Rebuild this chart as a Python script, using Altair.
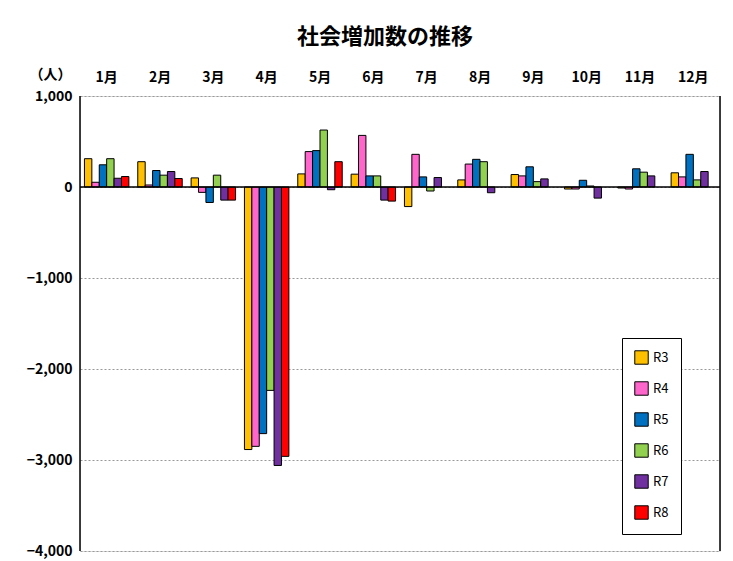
import altair as alt
import pandas as pd

months = ["1月","2月","3月","4月","5月","6月","7月","8月","9月","10月","11月","12月"]
series = ["R3","R4","R5","R6","R7","R8"]
colors = ["#FFC000","#FF66CC","#0070C0","#92D050","#7030A0","#FF0000"]
R3 = [311,278,100,-2885,144,141,-215,78,137,-22,-11,156]
R4 = [52,22,-59,-2850,389,567,359,252,122,-22,-22,111]
R5 = [244,181,-170,-2710,400,122,111,304,222,74,200,359]
R6 = [311,130,130,-2235,626,122,-44,278,59,11,163,78]
R7 = [96,170,-144,-3060,-30,-144,104,-63,89,-122,122,170]
R8 = [115,93,-144,-2960,278,-155,None,None,None,None,None,None]

rows = []
for s, vals in zip(series, [R3,R4,R5,R6,R7,R8]):
    for m, v in zip(months, vals):
        if v is not None:
            rows.append({"month": m, "series": s, "value": v})
df = pd.DataFrame(rows)

font = "Noto Sans CJK JP"
bars = alt.Chart(df).mark_bar(stroke="black", strokeWidth=1).encode(
    x=alt.X("month:N", sort=months, title=None,
            scale=alt.Scale(paddingInner=0.0, paddingOuter=0.0),
            axis=alt.Axis(orient="top", labelAngle=0, labelFontSize=14, labelFontWeight="bold",
                          labelFont=font, domain=False, ticks=False, labelPadding=12)),
    xOffset=alt.XOffset("series:N", sort=series, scale=alt.Scale(paddingOuter=0.6, paddingInner=0)),
    y=alt.Y("value:Q", title="（人）", scale=alt.Scale(domain=[-4000, 1000]),
            axis=alt.Axis(values=[-4000,-3000,-2000,-1000,0,1000], format=",.0f", labelFontSize=14,
                          labelFont=font, labelFontWeight="bold", ticks=False, domain=False,
                          grid=True, gridDash=[2,2], gridColor="#999",
                          titleAngle=0, titleX=-30, titleY=-15, titleFontSize=14,
                          titleFont=font, titleFontWeight="bold", labelPadding=8)),
    color=alt.Color("series:N", sort=series, scale=alt.Scale(domain=series, range=colors),
                    legend=alt.Legend(title=None, orient="none", legendX=542, legendY=242,
                                      symbolType="square", symbolSize=180, symbolStrokeColor="black",
                                      symbolStrokeWidth=1, labelFontSize=13, labelFont=font,
                                      rowPadding=12, padding=12, strokeColor="black",
                                      fillColor="white")),
)
zero = alt.Chart(pd.DataFrame({"y": [0]})).mark_rule(color="black", strokeWidth=1.5).encode(y="y:Q")
left = alt.Chart(pd.DataFrame({"y": [0]})).mark_rule(color="black", strokeWidth=1.5).encode(
    x=alt.value(0), y=alt.value(0), y2=alt.value(455))
right = alt.Chart(pd.DataFrame({"y": [0]})).mark_rule(color="black", strokeWidth=1.5).encode(
    x=alt.value(640), y=alt.value(0), y2=alt.value(455))

chart = alt.layer(bars, zero, left, right).properties(
    width=640, height=455,
    title=alt.TitleParams("社会増加数の推移", fontSize=22, font=font, fontWeight="bold", offset=18, dx=-15),
    autosize="none", padding={"left": 72, "top": 88, "right": 5, "bottom": 12},
).configure_view(stroke=None).configure(background="white")

chart.save("out.html", embed_options={"renderer": "svg", "actions": False})
